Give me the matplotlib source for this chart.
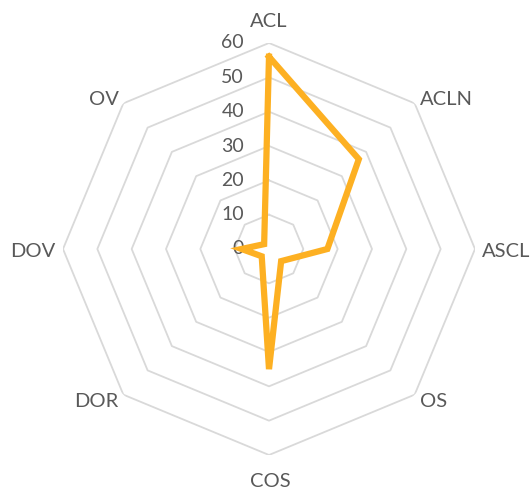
import numpy as np
import matplotlib.pyplot as plt
from matplotlib.transforms import offset_copy

categories = ['ACL', 'ACLN', 'ASCL', 'OS', 'COS', 'DOR', 'DOV', 'OV']
values = [56, 37, 17, 5, 35, 3, 8, 2]
rings = [10, 20, 30, 40, 50, 60]
tick_labels = [0, 10, 20, 30, 40, 50, 60]

plt.rcParams['font.family'] = ['Lato', 'DejaVu Sans']

W, H = 531, 492
cx, cy, R = 269, 249, 206
fig = plt.figure(figsize=(W / 100, H / 100), dpi=100)
ax = fig.add_axes([(cx - R) / W, (H - cy - R) / H, 2 * R / W, 2 * R / H], projection='polar')
ax.set_theta_zero_location('N')
ax.set_theta_direction(-1)
ax.set_ylim(0, 60)
ax.grid(False)
ax.spines['polar'].set_visible(False)
ax.set_xticks([])
ax.set_yticks([])
ax.patch.set_alpha(0)

n = len(categories)
angles = np.arange(n) * 2 * np.pi / n
closed = np.append(angles, angles[0])

# octagon grid
for r in rings:
    ax.plot(closed, [r] * (n + 1), color='#D9D9D9', lw=1.3, zorder=1)

# data line
ax.plot(closed, values + values[:1], color='#FDB022', lw=4.5, zorder=3,
        solid_joinstyle='miter')

# category labels (pixel positions: center x, baseline y from top)
label_pos = [(269, 27), (446, 105), (506, 257), (434, 407),
             (270, 487), (96, 407), (33, 257), (104, 105)]
for c, (px, py) in zip(categories, label_pos):
    fig.text(px / W, 1 - py / H, c, ha='center', va='baseline',
             fontsize=14.5, color='#595959')

# value axis labels
tr = offset_copy(ax.transData, fig=fig, x=-25, y=0, units='dots')
for t in tick_labels:
    ax.text(0, t, str(t), transform=tr, ha='right', va='center',
            fontsize=14, color='#595959', zorder=2)

fig.savefig('out.png', dpi=100)
